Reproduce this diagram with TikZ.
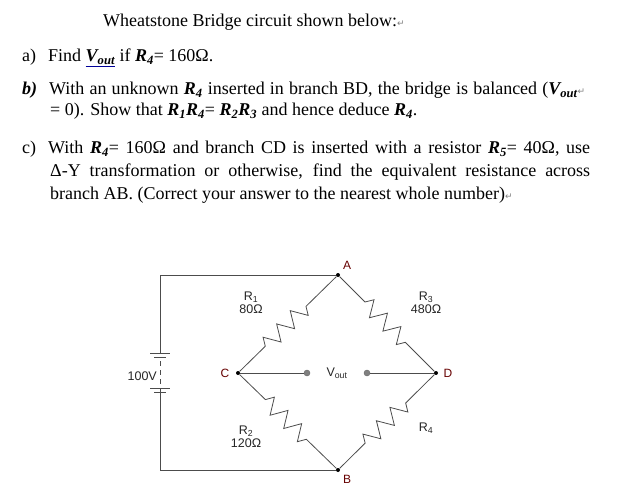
\documentclass[tikz,border=0pt]{standalone}
\usepackage{fontspec}
\setmainfont{Liberation Serif}
\setsansfont{Liberation Sans}
\newfontfamily\symfont{DejaVu Sans}
\usetikzlibrary{decorations.pathmorphing}
\newcommand{\ret}{{\color{gray}\symfont\fontsize{9}{9}\selectfont ↵}}
\newcommand{\Rb}[1]{\textbf{\textit{R\textsubscript{#1}}}}
\newcommand{\Vo}{\textbf{\textit{V\textsubscript{out}}}}
\begin{document}
\begin{tikzpicture}[x=1pt,y=-1pt,
	txt/.style={anchor=base west,inner sep=0pt,font=\fontsize{18}{20}\selectfont},
	lbl/.style={font=\sffamily\fontsize{12.5}{13}\selectfont,inner sep=1pt,text=black!85},
	pt/.style={font=\sffamily\fontsize{12}{13}\selectfont,text=red!40!black},
	wire/.style={draw=black!70,line width=0.8pt},
	res/.style={wire,decorate,decoration={zigzag,amplitude=8pt,segment length=19pt,pre length=36pt,post length=34pt}},
	dot/.style={circle,fill=black,inner sep=0pt,minimum size=4pt},
	term/.style={circle,fill=gray,draw=black!60,inner sep=0pt,minimum size=6pt}]
	\useasboundingbox (0,0) rectangle (640,489);
	% question text
	\node[txt] (title) at (103,27) {Wheatstone Bridge circuit shown below:\ret};
	\node[txt] (qa) at (22,62) {a)\hspace{12pt}Find {\color{blue!60!black}\underline{\color{black}\Vo}} if \Rb{4}= 160Ω.};
	\node[txt] (qb1) at (22,95) {\hbox to 563pt{\textbf{\textit{b)}}\hspace{12pt}With an unknown \Rb{4} inserted in branch BD, the bridge is balanced (\Vo\ret}};
	\node[txt] (qb2) at (50,116) {= 0). Show that \Rb{1}\Rb{4}= \Rb{2}\Rb{3} and hence deduce \Rb{4}.};
	\node[txt] (qc1) at (22,154) {\hbox to 568pt{c)\hspace{12pt}With \Rb{4}= 160Ω and branch CD is inserted with a resistor \Rb{5}= 40Ω, use}};
	\node[txt] (qc2) at (50,177) {\hbox to 540pt{Δ-Y transformation or otherwise, find the equivalent resistance across}};
	\node[txt] (qc3) at (50,200) {branch AB. (Correct your answer to the nearest whole number)\ret};
	% bridge nodes
	\node[dot] (A) at (338,275) {};
	\node[dot] (B) at (338,470) {};
	\node[dot] (C) at (238,373) {};
	\node[dot] (D) at (436,373) {};
	\node[term] (V1) at (307,373) {};
	\node[term] (V2) at (367,373) {};
	\node[pt,anchor=south west] at (A.north east) {A};
	\node[pt,anchor=north west] at (B.south east) {B};
	\node[pt,anchor=east] at ([xshift=-3pt]C.west) {C};
	\node[pt,anchor=west] at ([xshift=2pt]D.east) {D};
	\node[lbl] at (337,373) {V\textsubscript{out}};
	% resistors
	\draw[res] (C) -- (A);
	\draw[res] (A) -- (D);
	\draw[res] (C) -- (B);
	\draw[res] (B) -- (D);
	\node[lbl,align=center] at (251,303) {R\textsubscript{1}\\80Ω};
	\node[lbl,align=center] at (426,303) {R\textsubscript{3}\\480Ω};
	\node[lbl,align=center] at (246,437) {R\textsubscript{2}\\120Ω};
	\node[lbl] at (426,428) {R\textsubscript{4}};
	\draw[wire] (C) -- (V1);
	\draw[wire] (V2) -- (D);
	% battery
	\coordinate (bt) at (160,353);
	\coordinate (bb) at (160,388);
	\draw[wire] (A) -- (160,275) -- (bt);
	\draw[wire] (B) -- (160,470) -- (bb);
	\draw[wire] (150,353) -- (170,353);
	\draw[wire] (154,357.5) -- (166,357.5);
	\draw[wire] (150,388) -- (170,388);
	\draw[wire] (154,392.5) -- (166,392.5);
	\draw[wire,dash pattern=on 5pt off 4pt] (160,361) -- (160,385);
	\node[lbl,anchor=east] at (158,376) {100V};
\end{tikzpicture}
\end{document}
